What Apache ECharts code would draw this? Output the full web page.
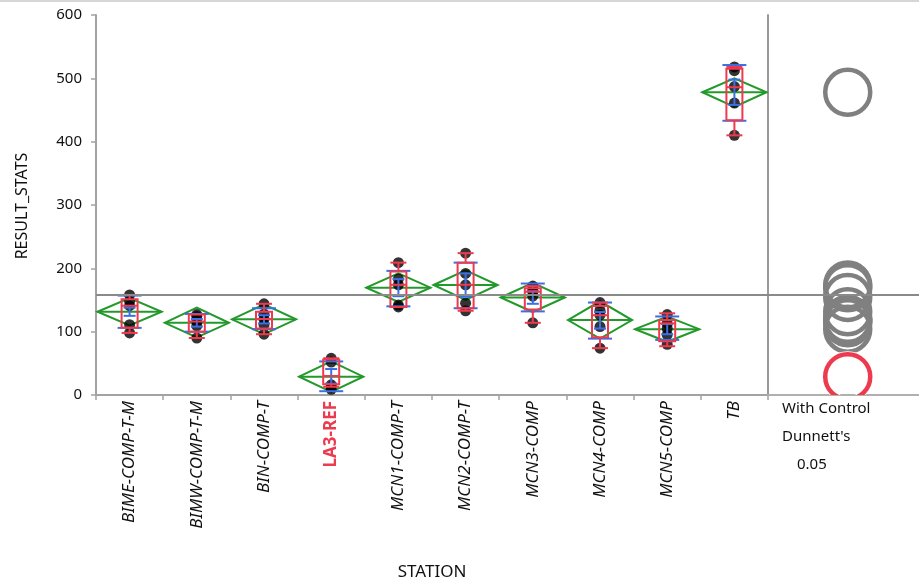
<!DOCTYPE html>
<html><head><meta charset="utf-8">
<script src="https://cdn.jsdelivr.net/npm/echarts@6/dist/echarts.min.js"></script>
<style>html,body{margin:0;padding:0;background:#fff}#c{width:919px;height:583px}</style>
</head><body><div id="c"></div><script>
// ---------- data ----------
const stations = ['BIME-COMP-T-M','BIMW-COMP-T-M','BIN-COMP-T','LA3-REF','MCN1-COMP-T','MCN2-COMP-T','MCN3-COMP','MCN4-COMP','MCN5-COMP','TB'];
const controlStation = 'LA3-REF';
const pointValues = [
  [158,148,141,111,98],
  [127,124,116,109,90],
  [144,128,120,111,96],
  [58,52,16,13,9],
  [209,183,174,142,139],
  [224,192,174,145,133],
  [172,166,163,156,114],
  [146,134,126,108,74],
  [127,113,105,95,80],
  [518,512,487,461,410]
];
const means   = [131.5,114,119.5,29,169.5,173.7,154,118.4,104,478];
const ciLow   = [110,91,96,5,147,150,131,89,84,455];
const ciHigh  = [153,138,143,53,192,197,177,148,124,500];
const sdLow   = [106,100,104,6,140,137,132,89,87,433];
const sdHigh  = [157,128,137,53,196,209,176,146,124,521];
const seLow   = [125,108,113,18,156,155,144,105,96,458];
const seHigh  = [138,120,126,41,183,192,164,131,112,498];
const boxMin  = [98,90,96,13,139,133,114,74,77,410];
const boxQ1   = [106,100,105,17,139,137,135,91,85,434];
const boxMed  = [141,116,120,30,174,174,163,126,113,486];
const boxQ3   = [151,127,131.5,56,195,209,168.5,140.5,118.5,515];
const boxMax  = [158,127,144,58,209,224,172,146,129,518];
const grandMean = 158;
const yMin = 0, yMax = 600, yInterval = 100;
const xTitle = 'STATION', yTitle = 'RESULT_STATS';
const panelLines = ['With Control', "Dunnett's", '0.05'];

// ---------- styles ----------
const FONT = '"Noto Sans", "Open Sans", sans-serif';
const GREEN = '#22992a', RED = '#ee3a4f', BLUE = '#3b6fe6', AXIS = '#a3a3a3';

const ctlIndex = stations.indexOf(controlStation);
const scatterData = [];
pointValues.forEach((arr, i) => arr.forEach(v => scatterData.push([i, v])));
const catData = stations.map((s, i) => [i, means[i]]);

function renderDiamond(params, api) {
  const i = api.value(0);
  const c = api.coord([i, means[i]]);
  const bw = api.size([1, 0])[0];
  const half = bw / 2 - 1.5;
  const top = api.coord([i, ciHigh[i]])[1];
  const bot = api.coord([i, ciLow[i]])[1];
  return { type: 'group', children: [
    { type: 'polygon', shape: { points: [[c[0]-half, c[1]], [c[0], top], [c[0]+half, c[1]], [c[0], bot]] },
      style: { fill: 'none', stroke: GREEN, lineWidth: 2 } },
    { type: 'line', shape: { x1: c[0]-half, y1: c[1], x2: c[0]+half, y2: c[1] },
      style: { stroke: GREEN, lineWidth: 2 } }
  ]};
}

function ln(x1, y1, x2, y2, color) {
  return { type: 'line', shape: { x1, y1, x2, y2 }, style: { stroke: color, lineWidth: 2 } };
}

function renderStats(params, api) {
  const i = api.value(0);
  const x = api.coord([i, 0])[0];
  const Y = v => api.coord([i, v])[1];
  const boxH = 8, capH = 8, sdH = 12, seH = 6;
  const ch = [];
  ch.push(ln(x-sdH, Y(sdHigh[i]), x+sdH, Y(sdHigh[i]), BLUE));
  ch.push(ln(x-sdH, Y(sdLow[i]), x+sdH, Y(sdLow[i]), BLUE));
  ch.push(ln(x-seH, Y(seHigh[i]), x+seH, Y(seHigh[i]), BLUE));
  ch.push(ln(x-seH, Y(seLow[i]), x+seH, Y(seLow[i]), BLUE));
  ch.push(ln(x, Y(seHigh[i]), x, Y(seLow[i]), BLUE));
  const yq3 = Y(boxQ3[i]), yq1 = Y(boxQ1[i]);
  ch.push({ type: 'rect', shape: { x: x-boxH, y: yq3, width: 2*boxH, height: yq1-yq3 },
    style: { fill: 'none', stroke: RED, lineWidth: 2 } });
  ch.push(ln(x-boxH, Y(boxMed[i]), x+boxH, Y(boxMed[i]), RED));
  if (boxMax[i] > boxQ3[i]) {
    ch.push(ln(x, yq3, x, Y(boxMax[i]), RED));
    ch.push(ln(x-capH, Y(boxMax[i]), x+capH, Y(boxMax[i]), RED));
  }
  if (boxMin[i] < boxQ1[i]) {
    ch.push(ln(x, yq1, x, Y(boxMin[i]), RED));
    ch.push(ln(x-capH, Y(boxMin[i]), x+capH, Y(boxMin[i]), RED));
  }
  return { type: 'group', children: ch };
}

function renderCircle(params, api) {
  const i = api.value(2);
  const c = api.coord([api.value(0), api.value(1)]);
  const isCtl = i === ctlIndex;
  const color = isCtl ? RED : '#808080';
  const cs = params.coordSys;
  return { type: 'group',
    clipPath: { type: 'rect', shape: { x: cs.x, y: cs.y, width: cs.width, height: cs.height } },
    children: [
      { type: 'circle', z2: isCtl ? 10 : 1, shape: { cx: c[0], cy: c[1], r: 22.5 }, style: { fill: 'none', stroke: '#fff', lineWidth: 6 } },
      { type: 'circle', z2: isCtl ? 11 : 2, shape: { cx: c[0], cy: c[1], r: 22.5 }, style: { fill: 'none', stroke: color, lineWidth: 4.5 } }
    ]};
}

const circleX = 0.528;
const circleData = stations.map((s, i) => [circleX, means[i], i]);

const chart = echarts.init(document.getElementById('c'), null, { renderer: 'canvas' });
chart.setOption({
  animation: false,
  textStyle: { fontFamily: FONT },
  grid: [
    { left: 96, top: 15, width: 672, height: 380, containLabel: false, outerBoundsMode: 'none' },
    { left: 768, top: 15, width: 151, height: 380, containLabel: false, outerBoundsMode: 'none' }
  ],
  xAxis: [
    { type: 'category', data: stations, gridIndex: 0, boundaryGap: true,
      axisLine: { lineStyle: { color: AXIS, width: 2 } },
      axisTick: { show: true, length: 5, lineStyle: { color: AXIS, width: 1.5 } },
      axisLabel: { rotate: 90, margin: 6, fontSize: 17, fontStyle: 'italic', color: '#111', fontFamily: FONT,
        formatter: v => v === controlStation ? '{ctl|' + v + '}' : v,
        rich: { ctl: { color: RED, fontWeight: 'bold', fontStyle: 'normal', fontSize: 17, fontFamily: FONT } } } },
    { type: 'value', gridIndex: 1, min: 0, max: 1,
      axisLine: { show: true, lineStyle: { color: '#b0b0b0', width: 2 } },
      axisTick: { show: false }, axisLabel: { show: false }, splitLine: { show: false } }
  ],
  yAxis: [
    { type: 'value', gridIndex: 0, min: yMin, max: yMax, interval: yInterval,
      axisLine: { show: true, lineStyle: { color: AXIS, width: 2 } },
      axisTick: { show: true, length: 5, lineStyle: { color: AXIS, width: 1.5 } },
      axisLabel: { margin: 14, fontSize: 15, color: '#111', fontFamily: FONT },
      splitLine: { show: false } },
    { type: 'value', gridIndex: 1, min: yMin, max: yMax, interval: yInterval,
      axisLine: { show: true, lineStyle: { color: '#999', width: 2 } },
      axisTick: { show: false }, axisLabel: { show: false }, splitLine: { show: false } }
  ],
  series: [
    { type: 'custom', name: 'diamonds', xAxisIndex: 0, yAxisIndex: 0, z: 2,
      renderItem: renderDiamond, data: catData, encode: { x: 0, y: 1 },
      markLine: { silent: true, symbol: 'none', label: { show: false },
        lineStyle: { color: '#8a8a8a', width: 2, type: 'solid' }, data: [{ yAxis: grandMean }] } },
    { type: 'scatter', name: 'points', xAxisIndex: 0, yAxisIndex: 0, z: 3,
      symbol: 'circle', symbolSize: 11, itemStyle: { color: '#000' }, data: scatterData },
    { type: 'custom', name: 'stats', xAxisIndex: 0, yAxisIndex: 0, z: 4,
      renderItem: renderStats, data: catData, encode: { x: 0, y: 1 } },
    { type: 'custom', name: 'circles', xAxisIndex: 1, yAxisIndex: 1, z: 3,
      renderItem: renderCircle, data: circleData, encode: { x: 0, y: 1 },
      markLine: { silent: true, symbol: 'none', label: { show: false },
        lineStyle: { color: '#8a8a8a', width: 2, type: 'solid' }, data: [{ yAxis: grandMean }] } }
  ],
  graphic: [
    { type: 'rect', left: 0, top: 0, shape: { width: 919, height: 2 }, style: { fill: '#d6d6d6' } },
    { type: 'text', x: 22, y: 206, rotation: Math.PI / 2,
      style: { text: yTitle, align: 'center', verticalAlign: 'middle', font: '16px ' + FONT, fill: '#111' } },
    { type: 'text', x: 432, y: 572,
      style: { text: xTitle, align: 'center', verticalAlign: 'middle', font: '17px ' + FONT, fill: '#111' } },
    { type: 'text', x: 782, y: 409, style: { text: panelLines[0], verticalAlign: 'middle', font: '15px ' + FONT, fill: '#111' } },
    { type: 'text', x: 782, y: 437, style: { text: panelLines[1], verticalAlign: 'middle', font: '15px ' + FONT, fill: '#111' } },
    { type: 'text', x: 797, y: 465, style: { text: panelLines[2], verticalAlign: 'middle', font: '15px ' + FONT, fill: '#111' } }
  ]
});
</script></body></html>
